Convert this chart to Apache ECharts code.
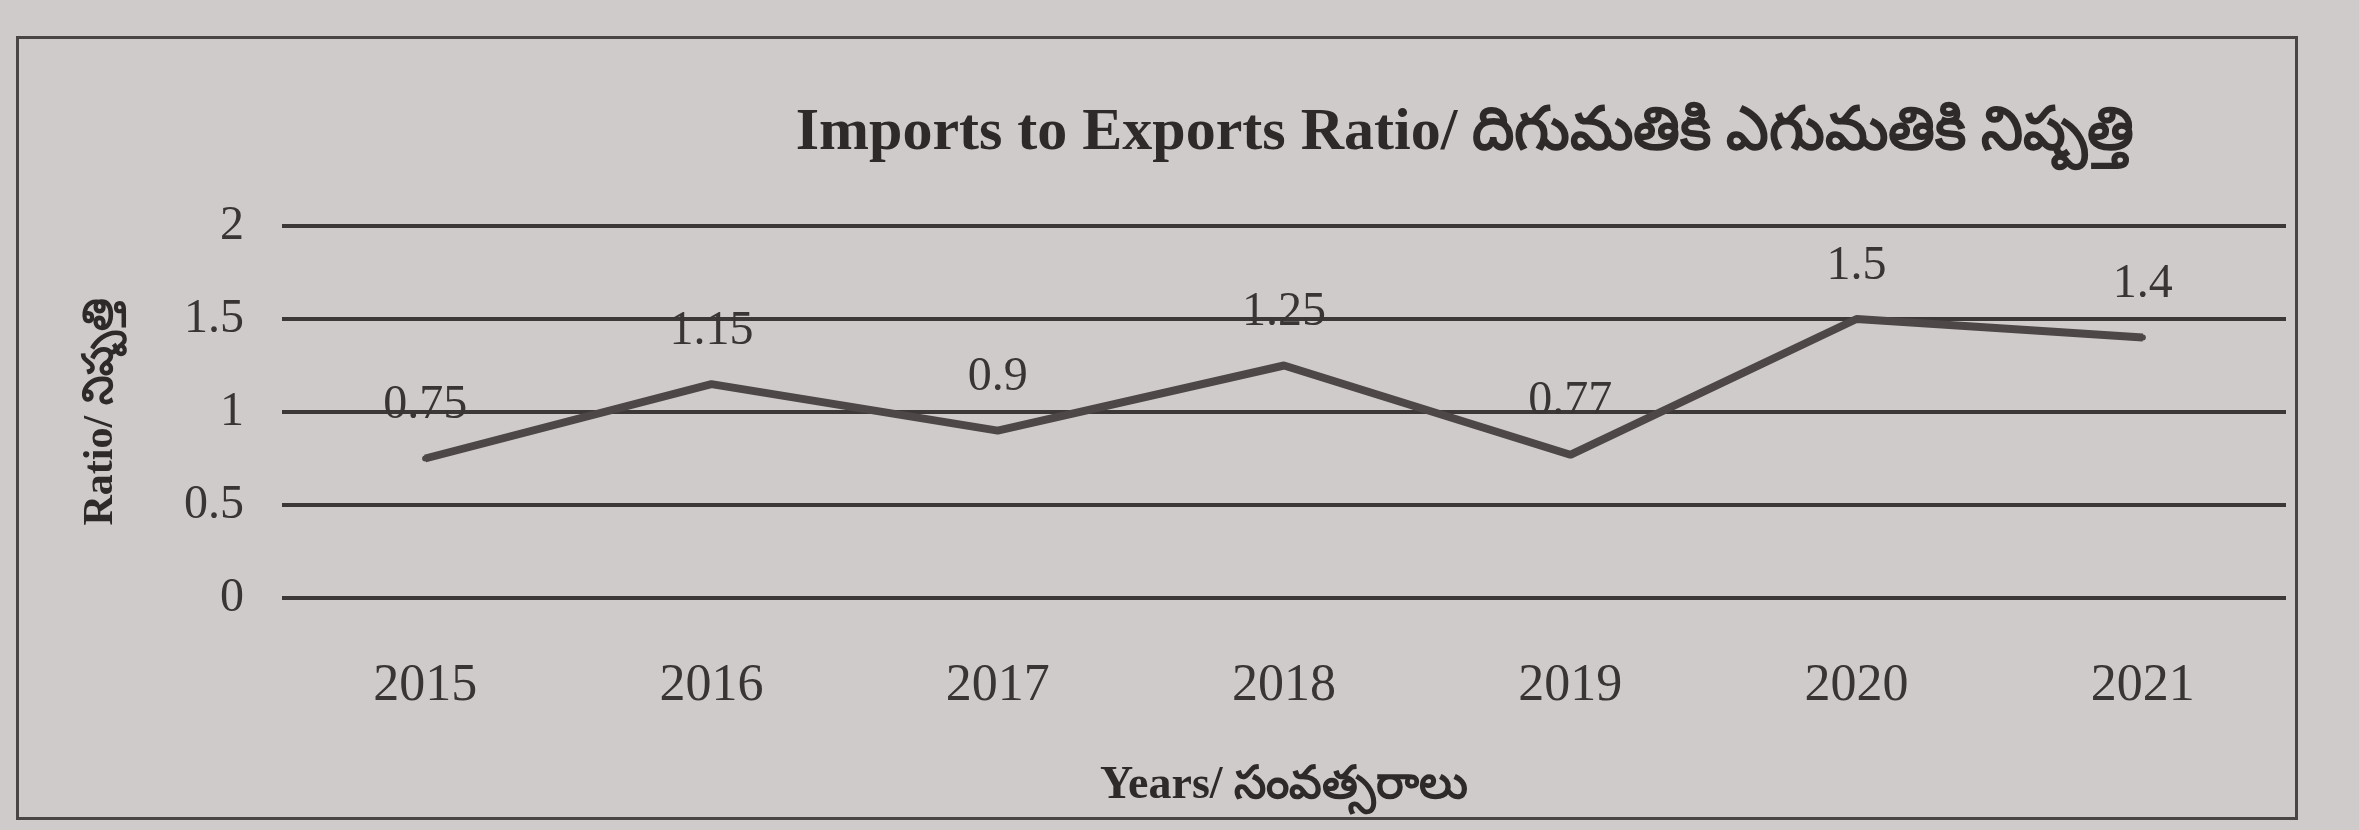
<!DOCTYPE html>
<html>
<head>
<meta charset="utf-8">
<script src="https://cdn.jsdelivr.net/npm/echarts@6/dist/echarts.min.js"></script>
<style>
  html, body { margin: 0; padding: 0; background: #cfcbcb; }
  #frame {
    position: absolute; left: 16px; top: 36px; width: 2282px; height: 784px;
    border: 3px solid #4a4545; box-sizing: border-box;
  }
  #chart { position: absolute; left: 0; top: 0; width: 2359px; height: 830px; }
</style>
</head>
<body>
<div id="frame"></div>
<div id="chart"></div>
<script>
// 年份与比率
const years = ["2015", "2016", "2017", "2018", "2019", "2020", "2021"];
const ratios = [0.75, 1.15, 0.9, 1.25, 0.77, 1.5, 1.4];
const yTicks = [0, 0.5, 1, 1.5, 2];

const chart = echarts.init(document.getElementById("chart"));
const serif = "'Liberation Serif', 'DejaVu Serif', serif";
const ink = "#2e2a2a";

chart.setOption({
    backgroundColor: "transparent",
    title: {
        text: "Imports to Exports Ratio/ దిగుమతికి ఎగుమతికి నిష్పత్తి",
        left: 1460,
        textAlign: "center",
        top: 98,
        textStyle: { fontFamily: serif, fontSize: 60, fontWeight: "bold", color: ink },
    },
    grid: { left: 282, right: 73, top: 226, bottom: 232 },
    xAxis: {
        type: "category",
        data: years,
        name: "Years/ సంవత్సరాలు",
        nameLocation: "middle",
        nameGap: 165,
        nameTextStyle: { fontFamily: serif, fontSize: 46, fontWeight: "bold", color: ink },
        axisLine: { show: false },
        axisTick: { show: false },
        axisLabel: { fontFamily: serif, fontSize: 52, color: "#3a3535", margin: 62 },
    },
    yAxis: {
        type: "value",
        min: 0,
        max: 2,
        interval: 0.5,
        name: "Ratio/ నిష్పత్తి",
        nameLocation: "middle",
        nameGap: 160,
        nameTextStyle: { fontFamily: serif, fontSize: 42, fontWeight: "bold", color: ink },
        axisLine: { show: false },
        axisTick: { show: false },
        axisLabel: {
            fontFamily: serif, fontSize: 48, color: "#3a3535", margin: 38,
            formatter: (v) => (yTicks.includes(v) ? String(v) : ""),
        },
        splitLine: { lineStyle: { color: "#3d3838", width: 4 } },
    },
    series: [
        {
            type: "line",
            data: ratios,
            symbol: "circle",
            symbolSize: 6,
            showSymbol: true,
            itemStyle: { color: "#4d4747" },
            lineStyle: { color: "#4d4747", width: 8 },
            label: {
                show: true,
                position: "top",
                distance: 26,
                fontFamily: serif,
                fontSize: 48,
                color: "#3a3535",
            },
        },
    ],
});
</script>
</body>
</html>
